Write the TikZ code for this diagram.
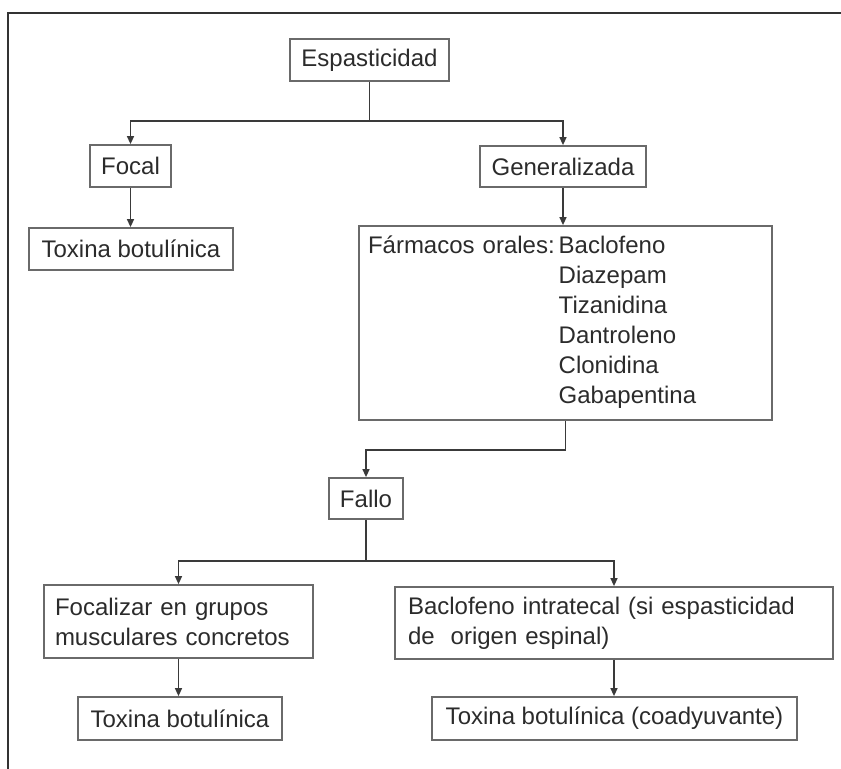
\documentclass[tikz,border=0pt]{standalone}
\usepackage{fontspec}
\setmainfont{Liberation Sans}
\usetikzlibrary{arrows.meta}

\definecolor{txtgray}{HTML}{2B2B2B}
\definecolor{boxgray}{HTML}{6A6A6A}
\definecolor{linegray}{HTML}{3A3A3A}

\tikzset{
  box/.style={draw=boxgray, line width=0.8pt, inner sep=0pt, text=txtgray,
    font=\fontsize{12}{15}\selectfont},
  flow/.style={draw=linegray, line width=0.85pt, -{Triangle[length=4pt,width=3.4pt]}},
  link/.style={draw=linegray, line width=0.85pt}
}

\begin{document}
\begin{tikzpicture}[x=0.5pt,y=-0.5pt]

  % Fix the page to the size of the picture
  \useasboundingbox (0,0) rectangle (841,769);

  % Outer frame (only top and left edges are visible)
  \draw[black!80, line width=1.2pt] (8,769) -- (8,13) -- (841,13);

  % Boxes of the chart
  \node[box, minimum width=79.5pt, minimum height=21pt] (esp) at (369.5,60) {Espasticidad};
  \node[box, minimum width=40.5pt, minimum height=21pt] (focal) at (130.5,166) {Focal};
  \node[box, minimum width=83pt, minimum height=20.5pt] (gen) at (563,166.5) {Generalizada};
  \node[box, minimum width=102pt, minimum height=21pt] (tox1) at (131,249) {Toxina botulínica};
  \node[box, minimum height=97pt, inner xsep=4.5pt, text width=197.5pt, align=left] (farm) at (565.5,323)
    {\begin{tabular}{@{}l@{\hspace{2pt}}l@{}}
      Fármacos orales: & Baclofeno\\
                       & Diazepam\\
                       & Tizanidina\\
                       & Dantroleno\\
                       & Clonidina\\
                       & Gabapentina
     \end{tabular}};
  \node[box, minimum width=37pt, minimum height=20.5pt] (fallo) at (366,498.5) {Fallo};
  \node[box, minimum height=36.5pt, inner xsep=5.5pt, text width=123.5pt, align=left] (focz) at (178.5,621.5)
    {Focalizar en grupos\\musculares concretos};
  \node[box, minimum height=36pt, inner xsep=6.5pt, text width=206pt, align=left] (bacl) at (614,623)
    {Baclofeno intratecal (si espasticidad\\de~ origen espinal)};
  \node[box, minimum width=102pt, minimum height=21.5pt] (tox2) at (180,718.5) {Toxina botulínica};
  \node[box, minimum width=182.5pt, minimum height=21.5pt] (tox3) at (614.5,718.5) {Toxina botulínica (coadyuvante)};

  % Connectors
  \draw[link] (esp.south) -- ++(0,39) coordinate (split1);
  \draw[flow] (split1) -| (focal.north);
  \draw[flow] (split1) -| (gen.north);
  \draw[flow] (focal.south) -- (focal.south |- tox1.north);
  \draw[flow] (gen.south) -- (gen.south |- farm.north);
  \draw[flow] (farm.south) -- ++(0,29) -| (fallo.north);
  \draw[link] (fallo.south) -- ++(0,41.5) coordinate (split2);
  \draw[flow] (split2) -| (focz.north);
  \draw[flow] (split2) -| (bacl.north);
  \draw[flow] (focz.south) -- (focz.south |- tox2.north);
  \draw[flow] (bacl.south) -- (bacl.south |- tox3.north);

\end{tikzpicture}
\end{document}
